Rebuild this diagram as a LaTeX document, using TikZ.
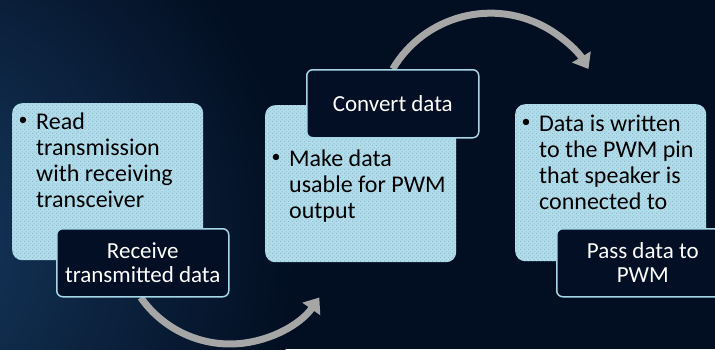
\documentclass[tikz,border=0pt]{standalone}
\usepackage{fontspec}
\setmainfont{Carlito}
\usetikzlibrary{arrows.meta,patterns}

\definecolor{bgnavy}{HTML}{020E21}
\definecolor{glow}{HTML}{183C64}
\definecolor{panelfill}{HTML}{B2DCEA}
\definecolor{paneldot}{HTML}{84BACE}
\definecolor{tagfill}{HTML}{020F24}
\definecolor{tagline}{HTML}{A5D7E6}
\definecolor{flowgray}{HTML}{A6A6A6}

% fine dotted texture for the light panels
\pgfdeclarepatternformonly{panelcheck}{\pgfpointorigin}{\pgfpoint{4pt}{4pt}}{\pgfpoint{4pt}{4pt}}{%
  \pgfpathrectangle{\pgfpoint{0pt}{0pt}}{\pgfpoint{1.2pt}{1.2pt}}%
  \pgfpathrectangle{\pgfpoint{2pt}{2pt}}{\pgfpoint{1.2pt}{1.2pt}}%
  \pgfusepath{fill}}

\pgfdeclarelayer{backdrop}
\pgfdeclarelayer{flowlayer}
\pgfsetlayers{backdrop,flowlayer,main}

\tikzset{
  panel/.style={rounded corners=10pt, fill=panelfill,
    postaction={pattern=panelcheck, pattern color=paneldot},
    minimum width=191pt, minimum height=157pt, anchor=north west, inner sep=0pt},
  tag/.style={rounded corners=6pt, fill=tagfill, draw=tagline, line width=1.5pt,
    minimum width=172pt, minimum height=68pt, anchor=north west, inner sep=0pt,
    text=white, align=center, font=\fontsize{23}{24.5}\selectfont},
  % multi-line nodes are placed by the baseline of their last line
  bullettext/.style={anchor=base west, align=left, inner sep=0pt, text=black,
    font=\fontsize{24}{26.3}\selectfont},
  bulletmark/.style={anchor=center, inner sep=0pt, text=black,
    font=\fontsize{18}{20}\selectfont},
  flow/.style={draw=flowgray, line width=7pt, -{Triangle[width=21pt,length=14pt]}},
}

\begin{document}
\begin{tikzpicture}[x=1pt, y=-1pt]
  \useasboundingbox (0,0) rectangle (715,349);
  \clip (0,0) rectangle (715,349);

  % background with a soft glow on the left
  \begin{pgfonlayer}{backdrop}
    \fill[bgnavy] (0,0) rectangle (715,349);
    \shade[inner color=glow, outer color=bgnavy] (-120,240) circle (420);
  \end{pgfonlayer}

  % light panels
  \node[panel] (p1) at (12,103) {};
  \node[panel] (p2) at (265,105) {};
  \node[panel] (p3) at (515,104) {};

  % bullet texts
  \node[bulletmark] (m1) at (23,121) {\textbullet};
  \node[bullettext] (t1) at (36,207.9) {Read\\transmission\\with receiving\\transceiver};
  \node[bulletmark] (m2) at (276,158) {\textbullet};
  \node[bullettext] (t2) at (289,218.6) {Make data\\usable for PWM\\output};
  \node[bulletmark] (m3) at (526,123) {\textbullet};
  \node[bullettext] (t3) at (539,209.9) {Data is written\\to the PWM pin\\that speaker is\\connected to};

  % step labels
  \node[tag] (d1) at (56,228) {Receive\\transmitted data};
  \node[tag] (d2) at (306,69) {Convert data};
  \node[tag] (d3) at (556,228) {Pass data to\\PWM};

  % curved connectors between the steps, kept behind the boxes
  \begin{pgfonlayer}{flowlayer}
    \draw[flow] ([xshift=-2pt]d1.south) arc[start angle=145, end angle=35, radius=109];
    \draw[flow] (d2.north) arc[start angle=210.6, end angle=329.4, radius=113.7];
  \end{pgfonlayer}
\end{tikzpicture}
\end{document}
